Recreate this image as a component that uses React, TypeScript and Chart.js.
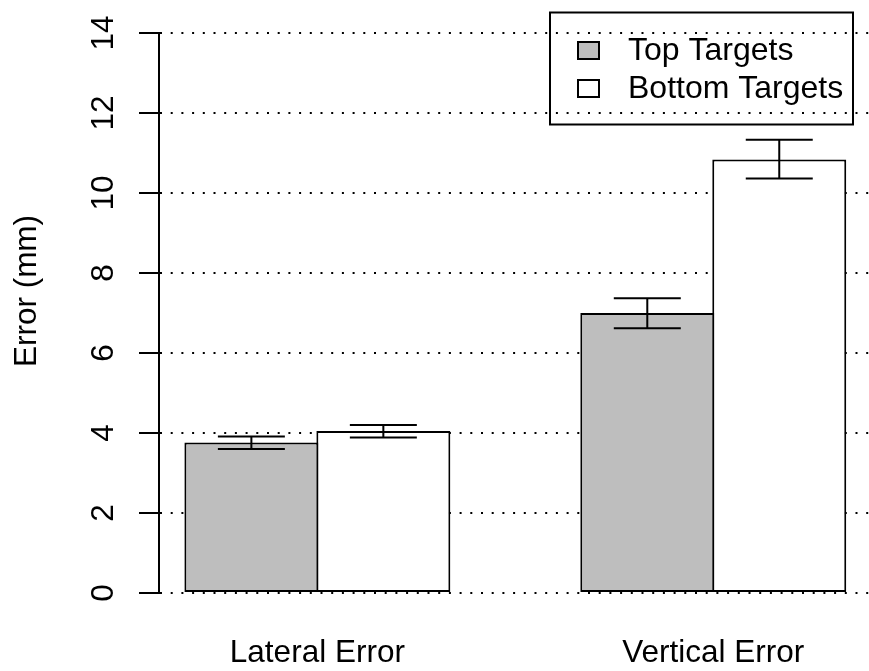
import React, { useEffect, useRef } from 'react';
import { Chart, registerables } from 'chart.js';

Chart.register(...registerables);

// ---- data ----
const categories = ['Lateral Error', 'Vertical Error'];
const seriesNames = ['Top Targets', 'Bottom Targets'];
const topMeans = [3.76, 7.0];
const topLow = [3.6, 6.62];
const topHigh = [3.91, 7.37];
const bottomMeans = [4.05, 10.84];
const bottomLow = [3.89, 10.36];
const bottomHigh = [4.2, 11.33];
const topPositions = [1.5, 4.5];
const bottomPositions = [2.5, 5.5];
const groupCenters = [2, 5];
const yTicks = [0, 2, 4, 6, 8, 10, 12, 14];
const yTitle = 'Error (mm)';
const fillColors = ['#BEBEBE', '#FFFFFF'];

const FAMILY = '"Liberation Sans", Arial, Helvetica, sans-serif';
const FONT = '31.5px ' + FAMILY;
const LEGEND_FONT = '32px ' + FAMILY;

const rStylePlugin = {
  id: 'rStyle',
  afterDatasetsDraw(chart: any) {
    const ctx = chart.ctx;
    const y = chart.scales.y;
    const lows = [topLow, bottomLow];
    const highs = [topHigh, bottomHigh];
    ctx.save();
    ctx.strokeStyle = '#000';
    ctx.lineWidth = 2;
    chart.data.datasets.forEach((_ds: any, i: number) => {
      const meta = chart.getDatasetMeta(i);
      meta.data.forEach((bar: any, j: number) => {
        const yl = y.getPixelForValue(lows[i][j]);
        const yh = y.getPixelForValue(highs[i][j]);
        const half = bar.width / 4;
        ctx.beginPath();
        ctx.moveTo(bar.x, yl);
        ctx.lineTo(bar.x, yh);
        ctx.moveTo(bar.x - half, yl);
        ctx.lineTo(bar.x + half, yl);
        ctx.moveTo(bar.x - half, yh);
        ctx.lineTo(bar.x + half, yh);
        ctx.stroke();
      });
    });
    ctx.restore();
  },
  afterDraw(chart: any) {
    const ctx = chart.ctx;
    const x = chart.scales.x;
    const y = chart.scales.y;
    ctx.save();
    ctx.fillStyle = '#000';
    ctx.font = FONT;

    // y tick labels (rotated, R style)
    y.ticks.forEach((t: any) => {
      const py = y.getPixelForValue(t.value);
      ctx.save();
      ctx.translate(113, py);
      ctx.rotate(-Math.PI / 2);
      ctx.textAlign = 'center';
      ctx.textBaseline = 'alphabetic';
      ctx.fillText(String(t.value), 0, 0);
      ctx.restore();
    });

    // y title
    ctx.save();
    ctx.translate(36, 291);
    ctx.rotate(-Math.PI / 2);
    ctx.textAlign = 'center';
    ctx.textBaseline = 'alphabetic';
    ctx.fillText(yTitle, 0, 0);
    ctx.restore();

    // category labels
    ctx.textAlign = 'center';
    ctx.textBaseline = 'alphabetic';
    categories.forEach((c, j) => {
      ctx.fillText(c, x.getPixelForValue(groupCenters[j]), 662);
    });

    // legend
    ctx.font = LEGEND_FONT;
    ctx.strokeStyle = '#000';
    ctx.lineWidth = 2;
    ctx.strokeRect(550, 12.5, 303, 112);
    const baselines = [60, 98];
    chart.data.datasets.forEach((ds: any, i: number) => {
      const top = baselines[i] - 18;
      ctx.fillStyle = ds.backgroundColor;
      ctx.fillRect(578, top, 21, 17);
      ctx.strokeRect(578, top, 21, 17);
      ctx.fillStyle = '#000';
      ctx.textAlign = 'left';
      ctx.fillText(ds.label, 628, baselines[i]);
    });
    ctx.restore();
  },
};

export default function App() {
  const canvasRef = useRef<HTMLCanvasElement | null>(null);

  useEffect(() => {
    const canvas = canvasRef.current;
    if (!canvas) return;
    const barCommon = {
      borderColor: '#000',
      borderWidth: 2,
      borderSkipped: false,
      grouped: false,
      barPercentage: 1.0152,
      categoryPercentage: 1,
    };
    const chart = new Chart(canvas, {
      type: 'bar',
      data: {
        datasets: [
          {
            ...barCommon,
            label: seriesNames[0],
            data: topPositions.map((px, i) => ({ x: px, y: topMeans[i] })),
            backgroundColor: fillColors[0],
          },
          {
            ...barCommon,
            label: seriesNames[1],
            data: bottomPositions.map((px, i) => ({ x: px, y: bottomMeans[i] })),
            backgroundColor: fillColors[1],
          },
        ],
      } as any,
      options: {
        animation: false,
        responsive: false,
        devicePixelRatio: 1,
        layout: { padding: { left: 139, top: 33, right: 0, bottom: 78 } },
        plugins: { legend: { display: false }, tooltip: { enabled: false } },
        scales: {
          x: {
            type: 'linear',
            offset: false,
            min: 0.8,
            max: 6.18,
            afterBuildTicks: (s: any) => {
              s.ticks = groupCenters.map((v) => ({ value: v }));
            },
            grid: { display: false, drawTicks: false, offset: false },
            border: { display: false },
            ticks: { display: false },
          },
          y: {
            type: 'linear',
            min: 0,
            max: 14,
            afterBuildTicks: (s: any) => {
              s.ticks = yTicks.map((v) => ({ value: v }));
            },
            ticks: { display: false },
            grid: {
              display: true,
              color: '#000',
              lineWidth: 2,
              drawTicks: true,
              tickLength: 20,
              tickWidth: 2,
              tickColor: '#000',
            },
            border: { display: true, color: '#000', width: 2, dash: [2, 8.7] },
          },
        },
      } as any,
      plugins: [rStylePlugin],
    });
    return () => chart.destroy();
  }, []);

  return (
    <div style={{ position: 'absolute', left: 0, top: 0, width: 869, height: 671, background: '#fff' }}>
      <canvas ref={canvasRef} width={869} height={671} style={{ display: 'block' }} />
    </div>
  );
}
